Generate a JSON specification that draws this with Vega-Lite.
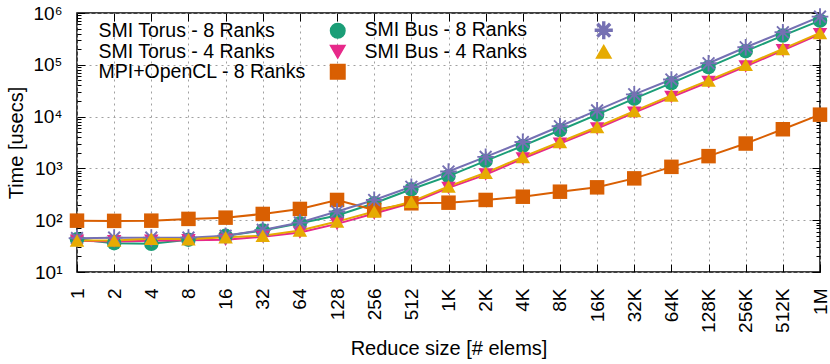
{
  "$schema": "https://vega.github.io/schema/vega-lite/v6.json",
  "width": 743,
  "height": 259,
  "autosize": {"type": "none"},
  "padding": {"left": 77, "top": 13, "right": 10, "bottom": 92},
  "background": "white",
  "data": {
    "values": [
      {"s": "1", "series": "SMI Torus - 8 Ranks", "t": 43},
      {"s": "2", "series": "SMI Torus - 8 Ranks", "t": 36},
      {"s": "4", "series": "SMI Torus - 8 Ranks", "t": 35},
      {"s": "8", "series": "SMI Torus - 8 Ranks", "t": 42},
      {"s": "16", "series": "SMI Torus - 8 Ranks", "t": 50},
      {"s": "32", "series": "SMI Torus - 8 Ranks", "t": 63},
      {"s": "64", "series": "SMI Torus - 8 Ranks", "t": 87},
      {"s": "128", "series": "SMI Torus - 8 Ranks", "t": 123},
      {"s": "256", "series": "SMI Torus - 8 Ranks", "t": 212},
      {"s": "512", "series": "SMI Torus - 8 Ranks", "t": 395},
      {"s": "1K", "series": "SMI Torus - 8 Ranks", "t": 708},
      {"s": "2K", "series": "SMI Torus - 8 Ranks", "t": 1400},
      {"s": "4K", "series": "SMI Torus - 8 Ranks", "t": 2720},
      {"s": "8K", "series": "SMI Torus - 8 Ranks", "t": 5460},
      {"s": "16K", "series": "SMI Torus - 8 Ranks", "t": 10900},
      {"s": "32K", "series": "SMI Torus - 8 Ranks", "t": 22200},
      {"s": "64K", "series": "SMI Torus - 8 Ranks", "t": 44200},
      {"s": "128K", "series": "SMI Torus - 8 Ranks", "t": 90000},
      {"s": "256K", "series": "SMI Torus - 8 Ranks", "t": 183000},
      {"s": "512K", "series": "SMI Torus - 8 Ranks", "t": 366000},
      {"s": "1M", "series": "SMI Torus - 8 Ranks", "t": 711000},
      {"s": "1", "series": "SMI Torus - 4 Ranks", "t": 40},
      {"s": "2", "series": "SMI Torus - 4 Ranks", "t": 39},
      {"s": "4", "series": "SMI Torus - 4 Ranks", "t": 40},
      {"s": "8", "series": "SMI Torus - 4 Ranks", "t": 41},
      {"s": "16", "series": "SMI Torus - 4 Ranks", "t": 42},
      {"s": "32", "series": "SMI Torus - 4 Ranks", "t": 48},
      {"s": "64", "series": "SMI Torus - 4 Ranks", "t": 58},
      {"s": "128", "series": "SMI Torus - 4 Ranks", "t": 85},
      {"s": "256", "series": "SMI Torus - 4 Ranks", "t": 135},
      {"s": "512", "series": "SMI Torus - 4 Ranks", "t": 215},
      {"s": "1K", "series": "SMI Torus - 4 Ranks", "t": 420},
      {"s": "2K", "series": "SMI Torus - 4 Ranks", "t": 760},
      {"s": "4K", "series": "SMI Torus - 4 Ranks", "t": 1550},
      {"s": "8K", "series": "SMI Torus - 4 Ranks", "t": 3000},
      {"s": "16K", "series": "SMI Torus - 4 Ranks", "t": 5900},
      {"s": "32K", "series": "SMI Torus - 4 Ranks", "t": 11900},
      {"s": "64K", "series": "SMI Torus - 4 Ranks", "t": 23800},
      {"s": "128K", "series": "SMI Torus - 4 Ranks", "t": 46500},
      {"s": "256K", "series": "SMI Torus - 4 Ranks", "t": 93000},
      {"s": "512K", "series": "SMI Torus - 4 Ranks", "t": 190000},
      {"s": "1M", "series": "SMI Torus - 4 Ranks", "t": 390000},
      {"s": "1", "series": "MPI+OpenCL - 8 Ranks", "t": 98},
      {"s": "2", "series": "MPI+OpenCL - 8 Ranks", "t": 97},
      {"s": "4", "series": "MPI+OpenCL - 8 Ranks", "t": 98},
      {"s": "8", "series": "MPI+OpenCL - 8 Ranks", "t": 106},
      {"s": "16", "series": "MPI+OpenCL - 8 Ranks", "t": 112},
      {"s": "32", "series": "MPI+OpenCL - 8 Ranks", "t": 132},
      {"s": "64", "series": "MPI+OpenCL - 8 Ranks", "t": 165},
      {"s": "128", "series": "MPI+OpenCL - 8 Ranks", "t": 246},
      {"s": "256", "series": "MPI+OpenCL - 8 Ranks", "t": 158},
      {"s": "512", "series": "MPI+OpenCL - 8 Ranks", "t": 212},
      {"s": "1K", "series": "MPI+OpenCL - 8 Ranks", "t": 218},
      {"s": "2K", "series": "MPI+OpenCL - 8 Ranks", "t": 246},
      {"s": "4K", "series": "MPI+OpenCL - 8 Ranks", "t": 284},
      {"s": "8K", "series": "MPI+OpenCL - 8 Ranks", "t": 355},
      {"s": "16K", "series": "MPI+OpenCL - 8 Ranks", "t": 431},
      {"s": "32K", "series": "MPI+OpenCL - 8 Ranks", "t": 642},
      {"s": "64K", "series": "MPI+OpenCL - 8 Ranks", "t": 1072},
      {"s": "128K", "series": "MPI+OpenCL - 8 Ranks", "t": 1725},
      {"s": "256K", "series": "MPI+OpenCL - 8 Ranks", "t": 3020},
      {"s": "512K", "series": "MPI+OpenCL - 8 Ranks", "t": 5700},
      {"s": "1M", "series": "MPI+OpenCL - 8 Ranks", "t": 10900},
      {"s": "1", "series": "SMI Bus - 8 Ranks", "t": 45},
      {"s": "2", "series": "SMI Bus - 8 Ranks", "t": 46},
      {"s": "4", "series": "SMI Bus - 8 Ranks", "t": 46},
      {"s": "8", "series": "SMI Bus - 8 Ranks", "t": 46},
      {"s": "16", "series": "SMI Bus - 8 Ranks", "t": 50},
      {"s": "32", "series": "SMI Bus - 8 Ranks", "t": 65},
      {"s": "64", "series": "SMI Bus - 8 Ranks", "t": 90},
      {"s": "128", "series": "SMI Bus - 8 Ranks", "t": 147},
      {"s": "256", "series": "SMI Bus - 8 Ranks", "t": 246},
      {"s": "512", "series": "SMI Bus - 8 Ranks", "t": 443},
      {"s": "1K", "series": "SMI Bus - 8 Ranks", "t": 870},
      {"s": "2K", "series": "SMI Bus - 8 Ranks", "t": 1670},
      {"s": "4K", "series": "SMI Bus - 8 Ranks", "t": 3240},
      {"s": "8K", "series": "SMI Bus - 8 Ranks", "t": 6500},
      {"s": "16K", "series": "SMI Bus - 8 Ranks", "t": 13200},
      {"s": "32K", "series": "SMI Bus - 8 Ranks", "t": 26900},
      {"s": "64K", "series": "SMI Bus - 8 Ranks", "t": 52100},
      {"s": "128K", "series": "SMI Bus - 8 Ranks", "t": 107000},
      {"s": "256K", "series": "SMI Bus - 8 Ranks", "t": 218000},
      {"s": "512K", "series": "SMI Bus - 8 Ranks", "t": 424000},
      {"s": "1M", "series": "SMI Bus - 8 Ranks", "t": 851000},
      {"s": "1", "series": "SMI Bus - 4 Ranks", "t": 40.5},
      {"s": "2", "series": "SMI Bus - 4 Ranks", "t": 40.5},
      {"s": "4", "series": "SMI Bus - 4 Ranks", "t": 44},
      {"s": "8", "series": "SMI Bus - 4 Ranks", "t": 43},
      {"s": "16", "series": "SMI Bus - 4 Ranks", "t": 47},
      {"s": "32", "series": "SMI Bus - 4 Ranks", "t": 50},
      {"s": "64", "series": "SMI Bus - 4 Ranks", "t": 63},
      {"s": "128", "series": "SMI Bus - 4 Ranks", "t": 94},
      {"s": "256", "series": "SMI Bus - 4 Ranks", "t": 147},
      {"s": "512", "series": "SMI Bus - 4 Ranks", "t": 228},
      {"s": "1K", "series": "SMI Bus - 4 Ranks", "t": 450},
      {"s": "2K", "series": "SMI Bus - 4 Ranks", "t": 822},
      {"s": "4K", "series": "SMI Bus - 4 Ranks", "t": 1670},
      {"s": "8K", "series": "SMI Bus - 4 Ranks", "t": 3240},
      {"s": "16K", "series": "SMI Bus - 4 Ranks", "t": 6300},
      {"s": "32K", "series": "SMI Bus - 4 Ranks", "t": 12800},
      {"s": "64K", "series": "SMI Bus - 4 Ranks", "t": 25700},
      {"s": "128K", "series": "SMI Bus - 4 Ranks", "t": 49900},
      {"s": "256K", "series": "SMI Bus - 4 Ranks", "t": 100000},
      {"s": "512K", "series": "SMI Bus - 4 Ranks", "t": 203000},
      {"s": "1M", "series": "SMI Bus - 4 Ranks", "t": 412000}
    ]
  },
  "layer": [
    {
      "mark": {"type": "line", "strokeWidth": 2},
      "encoding": {
        "x": {
          "field": "s", "type": "ordinal",
          "scale": {"type": "point", "padding": 0, "domain": ["1","2","4","8","16","32","64","128","256","512","1K","2K","4K","8K","16K","32K","64K","128K","256K","512K","1M"]},
          "axis": {"orient": "bottom", "title": "Reduce size [# elems]", "labelAngle": -90, "labelPadding": 24, "tickSize": -8, "grid": true, "titlePadding": 6}
        },
        "y": {
          "field": "t", "type": "quantitative",
          "scale": {"type": "log", "domain": [10, 1000000], "nice": false},
          "axis": {
            "orient": "left", "title": "Time [usecs]",
            "values": [10,20,30,40,50,60,70,80,90,100,200,300,400,500,600,700,800,900,1000,2000,3000,4000,5000,6000,7000,8000,9000,10000,20000,30000,40000,50000,60000,70000,80000,90000,100000,200000,300000,400000,500000,600000,700000,800000,900000,1000000],
            "labelExpr": "datum.value == 10 ? '10¹' : datum.value == 100 ? '10²' : datum.value == 1000 ? '10³' : datum.value == 10000 ? '10⁴' : datum.value == 100000 ? '10⁵' : datum.value == 1000000 ? '10⁶' : ''",
            "tickSize": {"condition": {"test": "datum.value == 10 || datum.value == 100 || datum.value == 1000 || datum.value == 10000 || datum.value == 100000 || datum.value == 1000000", "value": -8}, "value": -4},
            "grid": true,
            "gridOpacity": {"condition": {"test": "datum.value == 10 || datum.value == 100 || datum.value == 1000 || datum.value == 10000 || datum.value == 100000 || datum.value == 1000000", "value": 1}, "value": 0},
            "labelPadding": 23,
            "titlePadding": 6
          }
        },
        "color": {
          "field": "series", "type": "nominal",
          "scale": {"domain": ["SMI Torus - 8 Ranks", "SMI Torus - 4 Ranks", "MPI+OpenCL - 8 Ranks", "SMI Bus - 8 Ranks", "SMI Bus - 4 Ranks"], "range": ["#1b9e77", "#e7298a", "#d95f02", "#7570b3", "#e6ab02"]},
          "legend": {"title": null, "orient": "none", "legendX": 251, "legendY": 7, "columns": 2, "labelAlign": "left", "labelOffset": -249, "columnPadding": 16, "rowPadding": -4.5, "symbolSize": 210, "labelLimit": 400, "labelFontSize": 19.5, "padding": 0}
        }
      }
    },
    {
      "mark": {"type": "point", "filled": true, "opacity": 1, "size": 210},
      "encoding": {
        "x": {
          "field": "s", "type": "ordinal",
          "scale": {"type": "point", "padding": 0, "domain": ["1","2","4","8","16","32","64","128","256","512","1K","2K","4K","8K","16K","32K","64K","128K","256K","512K","1M"]},
          "axis": {"orient": "top", "labels": false, "title": null, "tickSize": -8, "grid": false}
        },
        "y": {
          "field": "t", "type": "quantitative",
          "scale": {"type": "log", "domain": [10, 1000000], "nice": false},
          "axis": {
            "orient": "right", "labels": false, "title": null, "grid": false,
            "values": [10,20,30,40,50,60,70,80,90,100,200,300,400,500,600,700,800,900,1000,2000,3000,4000,5000,6000,7000,8000,9000,10000,20000,30000,40000,50000,60000,70000,80000,90000,100000,200000,300000,400000,500000,600000,700000,800000,900000,1000000],
            "tickSize": {"condition": {"test": "datum.value == 10 || datum.value == 100 || datum.value == 1000 || datum.value == 10000 || datum.value == 100000 || datum.value == 1000000", "value": -8}, "value": -4}
          }
        },
        "color": {
          "field": "series", "type": "nominal",
          "scale": {"domain": ["SMI Torus - 8 Ranks", "SMI Torus - 4 Ranks", "MPI+OpenCL - 8 Ranks", "SMI Bus - 8 Ranks", "SMI Bus - 4 Ranks"], "range": ["#1b9e77", "#e7298a", "#d95f02", "#7570b3", "#e6ab02"]},
          "legend": {"title": null, "orient": "none", "legendX": 251, "legendY": 7, "columns": 2, "labelAlign": "left", "labelOffset": -249, "columnPadding": 16, "rowPadding": -4.5, "symbolSize": 210, "labelLimit": 400, "labelFontSize": 19.5, "padding": 0}
        },
        "shape": {
          "field": "series", "type": "nominal",
          "scale": {"domain": ["SMI Torus - 8 Ranks", "SMI Torus - 4 Ranks", "MPI+OpenCL - 8 Ranks", "SMI Bus - 8 Ranks", "SMI Bus - 4 Ranks"], "range": ["circle", "triangle-down", "square", "M-1.15,-0.13L1.15,-0.13L1.15,0.13L-1.15,0.13ZM-0.13,-1.15L0.13,-1.15L0.13,1.15L-0.13,1.15ZM-0.905,-0.72L-0.72,-0.905L0.905,0.72L0.72,0.905ZM-0.905,0.72L0.72,-0.905L0.905,-0.72L-0.72,0.905Z", "triangle-up"]},
          "legend": {"title": null, "orient": "none", "legendX": 251, "legendY": 7, "columns": 2, "labelAlign": "left", "labelOffset": -249, "columnPadding": 16, "rowPadding": -4.5, "symbolSize": 210, "labelLimit": 400, "labelFontSize": 19.5, "padding": 0}
        }
      }
    }
  ],
  "config": {
    "font": "Liberation Sans",
    "view": {"stroke": "black", "strokeWidth": 1.5},
    "axis": {
      "domain": false,
      "labelFont": "Liberation Sans", "labelFontSize": 19, "labelColor": "black",
      "titleFont": "Liberation Sans", "titleFontSize": 20, "titleFontWeight": "normal", "titleColor": "black",
      "tickColor": "black", "tickWidth": 1,
      "gridColor": "#a0a0a0", "gridDash": [2, 4], "gridWidth": 1
    },
    "legend": {"labelFont": "Liberation Sans", "labelFontSize": 19.5, "labelColor": "black", "symbolSize": 210, "labelLimit": 400}
  }
}
